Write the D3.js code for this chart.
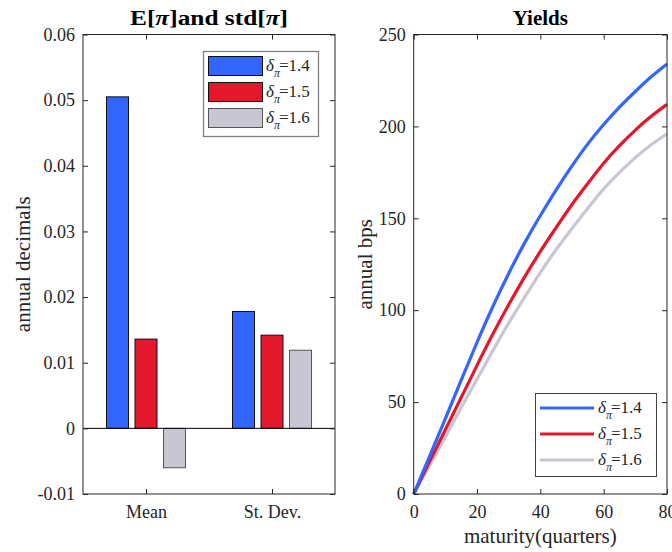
<!DOCTYPE html>
<html>
<head>
<meta charset="utf-8">
<script src="https://cdn.jsdelivr.net/npm/d3@7"></script>
<style>
  html, body { margin: 0; padding: 0; background: #fff; }
  svg { display: block; font-family: "Liberation Serif", "Times New Roman", serif; }
</style>
</head>
<body>
<svg id="chart" width="672" height="552"></svg>
<script>
// ---------------- DATA ----------------
const categories = ["Mean", "St. Dev."];
const seriesNames = ["1.4", "1.5", "1.6"];
const seriesColors = ["#3366ff", "#e3182d", "#c9c6d3"];
const barEdgeColors = ["#111111", "#111111", "#555555"];
const barMean = [0.0505, 0.0136, -0.0060];
const barStd = [0.0178, 0.0142, 0.0119];
const barYTicks = [-0.01, 0, 0.01, 0.02, 0.03, 0.04, 0.05, 0.06];
const barYTickLabels = ["-0.01", "0", "0.01", "0.02", "0.03", "0.04", "0.05", "0.06"];

const maturity = [0, 5, 10, 15, 20, 25, 30, 35, 40, 45, 50, 55, 60, 65, 70, 75, 80];
const yield14 = [0, 20.5, 41, 62, 82.5, 102, 120, 136.5, 151.5, 165.5, 178.5, 190.5, 201, 210.5, 219, 227, 234];
const yield15 = [0, 17.5, 35, 52.5, 70, 87, 103, 118, 132, 145, 157.5, 169, 180, 189.5, 198, 205.5, 212];
const yield16 = [0, 15.5, 31, 47, 62.5, 78, 93, 107, 120.5, 133, 144.5, 155.5, 166, 175, 183, 190, 196];
const yieldXTicks = [0, 20, 40, 60, 80];
const yieldYTicks = [0, 50, 100, 150, 200, 250];

// ---------------- SETUP ----------------
const svg = d3.select("#chart");
const axisColor = "#262626";
const tickLen = 5;
const tickFont = 18;
const labelFont = 21;

// ---------- Left panel: bars ----------
const L = { left: 83, right: 335, top: 34.5, bottom: 494 };
const yL = d3.scaleLinear().domain([-0.01, 0.06]).range([L.bottom, L.top]);
const x0 = d3.scaleBand().domain(categories).range([L.left, L.right]).padding(0);
const groupWidth = 85.5;
const x1 = d3.scaleBand().domain(seriesNames).range([0, groupWidth]).paddingInner(0.228).paddingOuter(0.114);

const barData = [];
categories.forEach((c, ci) => {
  const vals = ci === 0 ? barMean : barStd;
  seriesNames.forEach((s, si) => barData.push({ cat: c, s, si, v: vals[si] }));
});

const gL = svg.append("g");
gL.selectAll("rect.bar").data(barData).enter().append("rect")
  .attr("class", "bar")
  .attr("x", d => x0(d.cat) + (x0.bandwidth() - groupWidth) / 2 + x1(d.s))
  .attr("width", x1.bandwidth())
  .attr("y", d => Math.min(yL(d.v), yL(0)))
  .attr("height", d => Math.abs(yL(d.v) - yL(0)))
  .attr("fill", d => seriesColors[d.si])
  .attr("stroke", d => barEdgeColors[d.si])
  .attr("stroke-width", 1);

// zero baseline
gL.append("line").attr("x1", L.left).attr("x2", L.right)
  .attr("y1", yL(0)).attr("y2", yL(0)).attr("stroke", "#000").attr("stroke-width", 1);

// axes (MATLAB box style, ticks inward)
function boxAxes(g, xs, ys, box, xTicks, xLabels, yTicks, yLabels) {
  g.append("rect").attr("x", box.left).attr("y", box.top)
    .attr("width", box.right - box.left).attr("height", box.bottom - box.top)
    .attr("fill", "none").attr("stroke", axisColor).attr("stroke-width", 1);
  const left = d3.axisLeft(ys).tickValues(yTicks).tickSize(-tickLen).tickPadding(8)
    .tickFormat((d, i) => yLabels[i]);
  const ga = g.append("g").attr("transform", `translate(${box.left},0)`).call(left);
  ga.select(".domain").remove();
  const right = d3.axisRight(ys).tickValues(yTicks).tickSize(-tickLen).tickFormat("");
  const gr = g.append("g").attr("transform", `translate(${box.right},0)`).call(right);
  gr.select(".domain").remove();
  const bottom = d3.axisBottom(xs).tickValues(xTicks).tickSize(-tickLen).tickPadding(11)
    .tickFormat((d, i) => xLabels[i]);
  const gb = g.append("g").attr("transform", `translate(0,${box.bottom})`).call(bottom);
  gb.select(".domain").remove();
  const top = d3.axisTop(xs).tickValues(xTicks).tickSize(-tickLen).tickFormat("");
  const gt = g.append("g").attr("transform", `translate(0,${box.top})`).call(top);
  gt.select(".domain").remove();
  [ga, gr, gb, gt].forEach(a => {
    a.selectAll("line").attr("stroke", axisColor);
    a.selectAll("text").attr("fill", axisColor)
      .style("font-family", '"Liberation Serif", serif').style("font-size", tickFont + "px");
  });
  return { ga, gb };
}

const xCatLin = d3.scalePoint().domain(categories).range([L.left, L.right]).padding(0.5);
boxAxes(gL, xCatLin, yL, L, categories, categories, barYTicks, barYTickLabels);

// titles and labels
const titleL = svg.append("text").attr("x", (L.left + L.right) / 2).attr("y", 25)
  .attr("text-anchor", "middle").attr("font-weight", "bold").attr("font-size", 21).attr("fill", "#000")
  .attr("textLength", 158).attr("lengthAdjust", "spacingAndGlyphs");
titleL.append("tspan").text("E[");
titleL.append("tspan").attr("font-style", "italic").text("π");
titleL.append("tspan").text("]and std[");
titleL.append("tspan").attr("font-style", "italic").text("π");
titleL.append("tspan").text("]");

svg.append("text").attr("transform", `translate(30,${(L.top + L.bottom) / 2}) rotate(-90)`)
  .attr("text-anchor", "middle").attr("font-size", labelFont).attr("fill", axisColor).text("annual decimals");

// legend label builder
function legendLabel(g, x, y, name) {
  const t = g.append("text").attr("x", x).attr("y", y).attr("font-size", 17).attr("fill", axisColor);
  t.append("tspan").attr("font-style", "italic").text("δ");
  t.append("tspan").attr("font-size", 12).attr("font-style", "italic").attr("dy", 6).text("π");
  t.append("tspan").attr("dy", -6).attr("dx", -1).text("=" + name);
}

const legL = svg.append("g");
legL.append("rect").attr("x", 203.5).attr("y", 51.5).attr("width", 115).attr("height", 85)
  .attr("fill", "#fff").attr("stroke", "#808080").attr("stroke-width", 1.3);
seriesNames.forEach((s, i) => {
  const cy = 66 + i * 26;
  legL.append("rect").attr("x", 208.5).attr("y", cy - 9.5).attr("width", 54).attr("height", 19)
    .attr("fill", seriesColors[i]).attr("stroke", barEdgeColors[i]).attr("stroke-width", 1);
  legendLabel(legL, 266, cy + 5, s);
});

// ---------- Right panel: yields ----------
const R = { left: 413.7, right: 667, top: 34.5, bottom: 494 };
const xR = d3.scaleLinear().domain([0, 80]).range([R.left, R.right]);
const yR = d3.scaleLinear().domain([0, 250]).range([R.bottom, R.top]);
const gR = svg.append("g");

const ySeries = [yield14, yield15, yield16];
const line = d3.line().x(d => xR(d[0])).y(d => yR(d[1])).curve(d3.curveNatural);
[2, 1, 0].forEach(i => {
  gR.append("path").datum(maturity.map((m, k) => [m, ySeries[i][k]]))
    .attr("d", line).attr("fill", "none").attr("stroke", seriesColors[i]).attr("stroke-width", 3.2);
});

boxAxes(gR, xR, yR, R, yieldXTicks, yieldXTicks.map(String), yieldYTicks, yieldYTicks.map(String));

svg.append("text").attr("x", (R.left + R.right) / 2).attr("y", 25)
  .attr("text-anchor", "middle").attr("font-weight", "bold").attr("font-size", 21).attr("fill", "#000").text("Yields");
svg.append("text").attr("transform", `translate(372,${(R.top + R.bottom) / 2}) rotate(-90)`)
  .attr("text-anchor", "middle").attr("font-size", labelFont).attr("fill", axisColor).text("annual bps");
svg.append("text").attr("x", (R.left + R.right) / 2).attr("y", 543)
  .attr("text-anchor", "middle").attr("font-size", labelFont).attr("fill", axisColor).text("maturity(quarters)");

const legR = svg.append("g");
legR.append("rect").attr("x", 535.5).attr("y", 393.5).attr("width", 121).attr("height", 83)
  .attr("fill", "#fff").attr("stroke", "#404040").attr("stroke-width", 1);
seriesNames.forEach((s, i) => {
  const cy = 408 + i * 26;
  legR.append("line").attr("x1", 540).attr("x2", 594).attr("y1", cy).attr("y2", cy)
    .attr("stroke", seriesColors[i]).attr("stroke-width", 3.2);
  legendLabel(legR, 598, cy + 5, s);
});
</script>
</body>
</html>
